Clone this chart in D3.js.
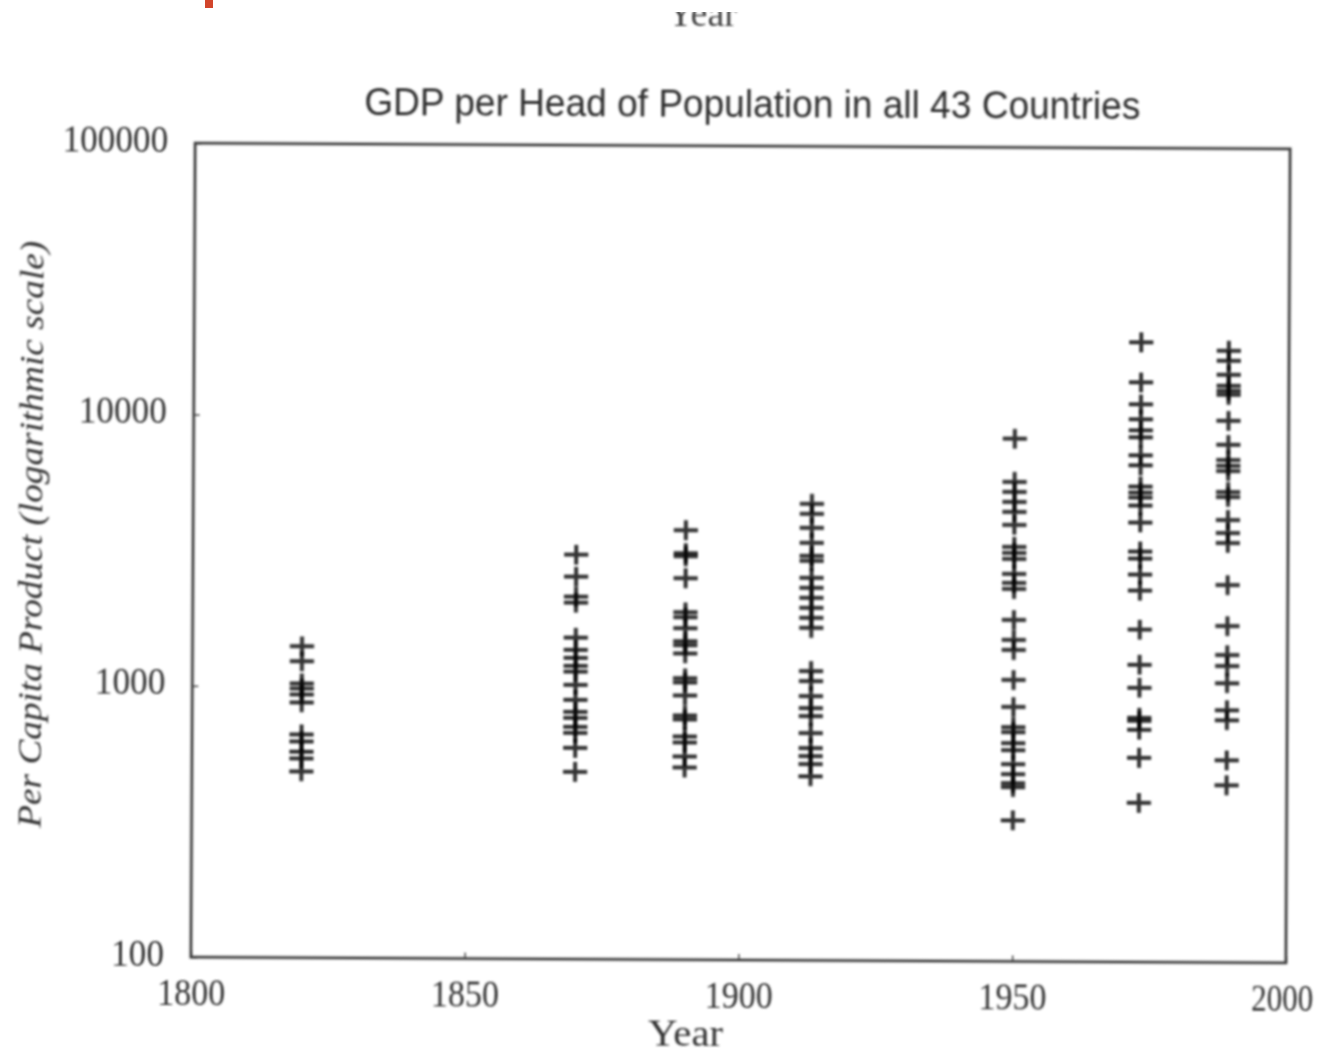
<!DOCTYPE html>
<html>
<head>
<meta charset="utf-8">
<script src="https://cdn.jsdelivr.net/npm/d3@7"></script>
<style>
  html, body { margin: 0; padding: 0; background: #fff; }
</style>
</head>
<body>
<div id="chart"></div>
<script>
// values (per capita GDP, one array per benchmark year)
const years = [1820, 1870, 1890, 1913, 1950, 1973, 1989];
const gdp1820 = [1405, 1237, 1026, 983, 934, 873, 665, 627, 575, 542, 486];
const gdp1870 = [3095, 2568, 2167, 2059, 1530, 1381, 1290, 1205, 1146, 1026, 903, 815, 775, 718, 682, 600, 490];
const gdp1890 = [3828, 3149, 3070, 2547, 1907, 1828, 1665, 1491, 1442, 1346, 1089, 1052, 942, 795, 768, 665, 632, 561, 511];
const gdp1913 = [4816, 4423, 3927, 3457, 3095, 2967, 2568, 2358, 2167, 1990, 1828, 1680, 1165, 1070, 942, 851, 795, 688, 606, 566, 529, 477];
const gdp1950 = [8437, 5855, 5378, 4939, 4538, 4064, 3370, 3203, 3043, 2680, 2482, 2358, 1813, 1530, 1405, 1089, 866, 730, 700, 637, 600, 533, 490, 454, 439, 331];
const gdp1973 = [19236, 13695, 11360, 10000, 9109, 8583, 7366, 6766, 5658, 5378, 5155, 4816, 4169, 3259, 3070, 2680, 2339, 1680, 1247, 1026, 795, 775, 718, 566, 386];
const gdp1989 = [17976, 16509, 14656, 13353, 12794, 12368, 9915, 8087, 7119, 6766, 6483, 5424, 5198, 4276, 3828, 3517, 2461, 1738, 1358, 1237, 1070, 851, 782, 556, 450];

const xTicks = [1800, 1850, 1900, 1950, 2000];
const yTicks = [100, 1000, 10000, 100000];

const title = "GDP per Head of Population in all 43 Countries";
const xLabel = "Year";
const yLabel = "Per Capita Product (logarithmic scale)";

const width = 1323, height = 1056;
const plotLeft = 193, plotRight = 1288, plotTop = 146, plotBottom = 960;

const series = [gdp1820, gdp1870, gdp1890, gdp1913, gdp1950, gdp1973, gdp1989];
const points = years.flatMap((yr, i) => series[i].map(v => ({year: yr, gdp: v})));

const svg = d3.select("#chart").append("svg")
    .attr("width", width)
    .attr("height", height)
    .attr("viewBox", [0, 0, width, height]);

// soft blur so it reads like the scanned page
const defs = svg.append("defs");
defs.append("filter")
    .attr("id", "scan")
    .attr("x", "-5%").attr("y", "-5%").attr("width", "110%").attr("height", "110%")
  .append("feGaussianBlur")
    .attr("stdDeviation", 0.9);

defs.append("clipPath").attr("id", "cut")
  .append("rect").attr("x", 0).attr("y", 12).attr("width", width).attr("height", 40);

// bits of the page above the chart
svg.append("rect")
    .attr("x", 205).attr("y", 0).attr("width", 8).attr("height", 8)
    .attr("fill", "#d2452b");

svg.append("g").attr("clip-path", "url(#cut)")
  .append("text")
    .attr("x", 702).attr("y", 26)
    .attr("text-anchor", "middle")
    .attr("font-family", "Liberation Serif")
    .attr("font-size", 38)
    .attr("fill", "#444")
    .attr("filter", "url(#scan)")
    .text(xLabel);

// the scan is a little bit rotated
const g = svg.append("g")
    .attr("filter", "url(#scan)")
    .attr("transform", `rotate(0.3 ${(plotLeft + plotRight) / 2} ${(plotTop + plotBottom) / 2})`);

const x = d3.scaleLinear().domain([1800, 2000]).range([plotLeft, plotRight]);
const y = d3.scaleLog().domain([100, 100000]).range([plotBottom, plotTop]);

// x axis, ticks pointing inward
g.append("g")
    .attr("transform", `translate(0,${plotBottom})`)
    .call(d3.axisBottom(x).tickValues(xTicks).tickFormat(d3.format("d")).tickSize(-6).tickSizeOuter(0))
    .call(a => a.select(".domain").remove())
    .call(a => a.selectAll("line").attr("stroke", "#555").attr("stroke-width", 1.6))
    .call(a => a.selectAll("text")
        .attr("y", 48).attr("dy", 0)
        .attr("dx", d => d === 2000 ? -4 : 0)
        .attr("font-family", "Liberation Serif")
        .attr("font-size", 37)
        .attr("fill", "#333")
        .attr("textLength", d => d === 2000 ? 62 : 68)
        .attr("lengthAdjust", "spacingAndGlyphs"));

// y axis
g.append("g")
    .attr("transform", `translate(${plotLeft},0)`)
    .call(d3.axisLeft(y).tickValues(yTicks).tickFormat(d3.format("d")).tickSize(-6).tickSizeOuter(0).tickPadding(27))
    .call(a => a.select(".domain").remove())
    .call(a => a.selectAll("line").attr("stroke", "#555").attr("stroke-width", 1.6))
    .call(a => a.selectAll("text")
        .attr("dy", "0.22em")
        .attr("font-family", "Liberation Serif")
        .attr("font-size", 37)
        .attr("fill", "#333")
        .attr("textLength", d => String(d).length * 17.6)
        .attr("lengthAdjust", "spacingAndGlyphs"));

// frame
g.append("rect")
    .attr("x", plotLeft).attr("y", plotTop)
    .attr("width", plotRight - plotLeft).attr("height", plotBottom - plotTop)
    .attr("fill", "none")
    .attr("stroke", "#3c3c3c")
    .attr("stroke-width", 2.8);

// plus markers, wider than tall like the original
const plus = {
  draw(ctx, size) {
    const w = size * 0.55, h = size * 0.45;
    ctx.moveTo(-w, 0); ctx.lineTo(w, 0);
    ctx.moveTo(0, -h); ctx.lineTo(0, h);
  }
};

g.append("g")
  .selectAll("path")
  .data(points)
  .join("path")
    .attr("transform", d => `translate(${x(d.year)},${y(d.gdp)})`)
    .attr("d", d3.symbol(plus, 22))
    .attr("fill", "none")
    .attr("stroke", "#000")
    .attr("stroke-opacity", 0.8)
    .attr("stroke-width", 4);

// titles
g.append("text")
    .attr("x", 750).attr("y", 117)
    .attr("text-anchor", "middle")
    .attr("font-family", "Liberation Sans")
    .attr("font-size", 38)
    .attr("fill", "#2e2e2e")
    .attr("textLength", 776)
    .attr("lengthAdjust", "spacingAndGlyphs")
    .text(title);

g.append("text")
    .attr("x", 688).attr("y", 1046)
    .attr("text-anchor", "middle")
    .attr("font-family", "Liberation Serif")
    .attr("font-size", 38)
    .attr("fill", "#333")
    .attr("textLength", 75)
    .attr("lengthAdjust", "spacingAndGlyphs")
    .text(xLabel);

g.append("text")
    .attr("transform", "translate(42,538) rotate(-90)")
    .attr("text-anchor", "middle")
    .attr("font-family", "Liberation Serif")
    .attr("font-style", "italic")
    .attr("font-size", 33)
    .attr("fill", "#333")
    .attr("textLength", 587)
    .attr("lengthAdjust", "spacingAndGlyphs")
    .text(yLabel);
</script>
</body>
</html>
